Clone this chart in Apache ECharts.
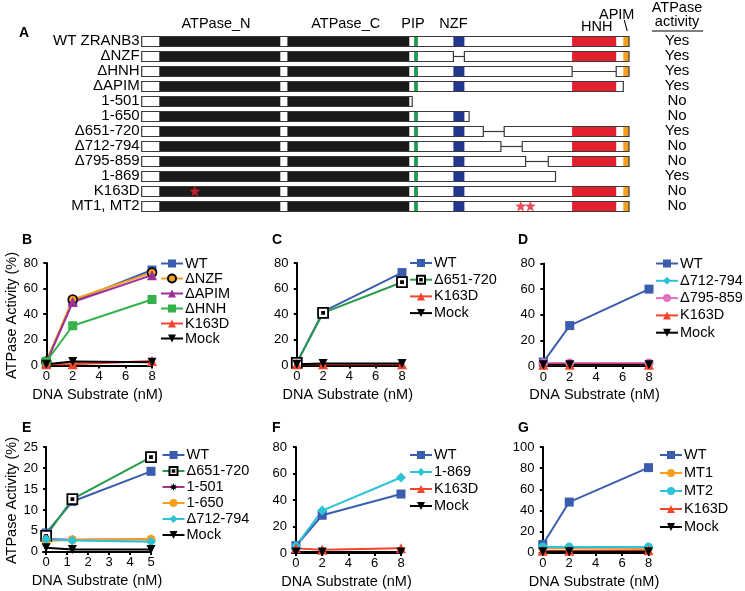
<!DOCTYPE html>
<html>
<head>
<meta charset="utf-8">
<script src="https://cdn.jsdelivr.net/npm/echarts@6/dist/echarts.min.js"></script>
<style>
  html, body { margin: 0; padding: 0; background: #fff; }
  #main { width: 745px; height: 591px; }
</style>
</head>
<body>
<div id="main"></div>
<script>
// ---------- panel A: construct map (figure units across the full length protein)
var rowLabels = ["WT ZRANB3", "ΔNZF", "ΔHNH", "ΔAPIM", "1-501", "1-650", "Δ651-720", "Δ712-794", "Δ795-859", "1-869", "K163D", "MT1, MT2"];
var activity = ["Yes", "Yes", "Yes", "Yes", "No", "No", "Yes", "No", "No", "Yes", "No", "No"];
// kept parts of each construct [start, end]; gaps are deletions
var rowPieces = [
  [[0, 487.3]],
  [[0, 311.7], [322.7, 487.3]],
  [[0, 430.4], [474.5, 487.3]],
  [[0, 481.6]],
  [[0, 270.5]],
  [[0, 327.4]],
  [[0, 341.6], [362.5, 487.3]],
  [[0, 359.2], [380.5, 487.3]],
  [[0, 383.9], [406.6, 487.3]],
  [[0, 413.8]],
  [[0, 487.3]],
  [[0, 487.3]]
];
var domainNames = ["ATPase_N", "ATPase_C", "PIP", "NZF", "HNH", "APIM"];
var domainStart = [17.6, 145.7, 272.4, 311.7, 430.4, 481.6];
var domainEnd = [138.6, 267.6, 276.2, 322.7, 474.5, 487.3];
var domainColors = ["#1b1a1a", "#1b1a1a", "#1f9a50", "#22388f", "#e2202e", "#f5a01c"];
var headerPos = [74.3, 204, 271.3, 311.7, 455, 475];
// point mutations [position, row]
var mutations = [[53.1, 10], [379, 11], [388.6, 11]];

// ---------- panels B-G
var ticks8 = [0, 2, 4, 6, 8];
var ticks5 = [0, 1, 2, 3, 4, 5];
var ticks80 = [0, 20, 40, 60, 80];
var ticks25 = [0, 5, 10, 15, 20, 25];
var ticks100 = [0, 20, 40, 60, 80, 100];

var xB = [0, 2, 8];
var bWT = [3, 50, 74.5];
var bNZF = [3, 51.5, 72.5];
var bAPIM = [2, 49.5, 70.5];
var bHNH = [3, 31, 51.5];
var bK163D = [1, 1, 3.5];
var bMock = [1, 3, 2.5];

var xC = [0, 2, 8];
var cWT = [2, 42, 72.5];
var c651 = [2, 41, 65];
var cK163D = [1, 1, 1];
var cMock = [1, 1.5, 1.5];

var xD = [0, 2, 8];
var dWT = [3, 31.5, 60];
var d712 = [2, 2, 2];
var d795 = [2.3, 2.3, 2.3];
var dK163D = [1, 1, 1];
var dMock = [1, 1, 1];

var xE = [0, 1.25, 5];
var eWT = [4.5, 12, 19.2];
var e651 = [3.8, 12.6, 22.6];
var e501 = [3.1, 2.9, 3];
var e650 = [2.6, 2.9, 3];
var e712 = [3, 2.7, 2.4];
var eMock = [1, 0.6, 0.6];

var xF = [0, 2, 8];
var fWT = [5.5, 28.5, 44.5];
var f869 = [5.5, 32, 57];
var fK163D = [3.5, 2.5, 3.5];
var fMock = [0.8, 0.8, 0.8];

var xG = [0, 2, 8];
var gWT = [8, 48, 80.5];
var gMT1 = [4.5, 4.5, 4.5];
var gMT2 = [5.5, 5.5, 5.5];
var gK163D = [2, 2, 2.5];
var gMock = [1, 1, 1];

var FONT = '"Liberation Sans", Arial, Helvetica, sans-serif';

function starPath(n, inner) {
  var pts = [];
  for (var i = 0; i < n * 2; i++) {
    var r = i % 2 ? inner : 1, a = Math.PI / n * i - Math.PI / 2;
    pts.push((50 + 50 * r * Math.cos(a)).toFixed(2) + ',' + (50 + 50 * r * Math.sin(a)).toFixed(2));
  }
  return 'path://M' + pts.join('L') + 'Z';
}

// marker looks of each construct
var looks = {
  'WT':       { color: '#3a5dae', symbol: 'rect', size: 9 },
  'ΔNZF':     { color: '#f6a01f', symbol: 'circle', size: 9, border: '#000', bw: 1.6 },
  'ΔAPIM':    { color: '#9d2f98', symbol: 'triangle', size: 10 },
  'ΔHNH':     { color: '#35b34a', symbol: 'rect', size: 9 },
  'K163D':    { color: '#f2452b', symbol: 'triangle', size: 10 },
  'Mock':     { color: '#000000', symbol: 'triangle', size: 9, rotate: 180 },
  'Δ651-720': { color: '#279a4c', symbol: 'path://M0,0H10V10H0ZM4,4H6V6H4Z', size: 10, fill: '#fff', border: '#000', bw: 1.8 },
  'Δ712-794': { color: '#2cc3d6', symbol: 'diamond', size: 10 },
  'Δ795-859': { color: '#e271c4', symbol: 'circle', size: 9 },
  '1-501':    { color: '#a3338f', symbol: starPath(8, 0.45), size: 10, fill: '#000' },
  '1-650':    { color: '#f6a01f', symbol: 'circle', size: 9 },
  '1-869':    { color: '#2cc3d6', symbol: 'diamond', size: 10 },
  'MT1':      { color: '#f6a01f', symbol: 'circle', size: 9 },
  'MT2':      { color: '#2cc3d6', symbol: 'circle', size: 9 }
};

var panels = [
  { letter: 'B', grid: { left: 43, top: 263, width: 109, height: 105 }, xs: xB, xMin: -0.25, xMax: 8, xt: ticks8, yMin: -2, yMax: 80, yt: ticks80, yName: true,
    legend: { left: 160, top: 256, gap: 0 }, letterPos: [27, 240],
    series: [['WT', bWT], ['ΔNZF', bNZF], ['ΔAPIM', bAPIM], ['ΔHNH', bHNH], ['K163D', bK163D], ['Mock', bMock]] },
  { letter: 'C', grid: { left: 293.5, top: 263, width: 108.5, height: 105 }, xs: xC, xMin: -0.25, xMax: 8, xt: ticks8, yMin: -2, yMax: 80, yt: ticks80,
    legend: { left: 409, top: 255.5, gap: 1.7 }, letterPos: [277, 240],
    series: [['WT', cWT], ['Δ651-720', c651], ['K163D', cK163D], ['Mock', cMock]] },
  { letter: 'D', grid: { left: 540, top: 263.5, width: 109, height: 105 }, xs: xD, xMin: -0.25, xMax: 8, xt: ticks8, yMin: -2, yMax: 80, yt: ticks80,
    legend: { left: 655, top: 256, gap: 2.3 }, letterPos: [523, 240],
    series: [['WT', dWT], ['Δ712-794', d712], ['Δ795-859', d795], ['K163D', dK163D], ['Mock', dMock]] },
  { letter: 'E', grid: { left: 43, top: 447, width: 108, height: 107 }, xs: xE, xMin: -0.15, xMax: 5, xt: ticks5, yMin: -0.5, yMax: 25, yt: ticks25, yName: true,
    legend: { left: 161.5, top: 447.5, gap: 1 }, letterPos: [27, 428],
    series: [['WT', eWT], ['Δ651-720', e651], ['1-501', e501], ['1-650', e650], ['Δ712-794', e712], ['Mock', eMock]] },
  { letter: 'F', grid: { left: 292, top: 447, width: 109, height: 108 }, xs: xF, xMin: -0.3, xMax: 8, xt: ticks8, yMin: -1.5, yMax: 80, yt: ticks80,
    legend: { left: 409, top: 447.5, gap: 2 }, letterPos: [277, 428],
    series: [['WT', fWT], ['1-869', f869], ['K163D', fK163D], ['Mock', fMock]] },
  { letter: 'G', grid: { left: 539.5, top: 447, width: 109, height: 108 }, xs: xG, xMin: -0.25, xMax: 8, xt: ticks8, yMin: -2, yMax: 100, yt: ticks100,
    legend: { left: 659, top: 447.5, gap: 3 }, letterPos: [523, 428],
    series: [['WT', gWT], ['MT1', gMT1], ['MT2', gMT2], ['K163D', gK163D], ['Mock', gMock]] }
];

var grids = [{ left: 141.7, top: 33.5, width: 487.3, height: 180 }];
var xAxes = [{ type: 'value', gridIndex: 0, min: 0, max: 487.3, show: false }];
var yAxes = [
  { type: 'category', gridIndex: 0, data: rowLabels, inverse: true, position: 'left',
    axisLine: { show: false }, axisTick: { show: false },
    axisLabel: { interval: 0, color: '#000', fontSize: 15, fontFamily: FONT, margin: 2 } },
  { type: 'category', gridIndex: 0, data: rowLabels, inverse: true, position: 'right',
    axisLine: { show: false }, axisTick: { show: false },
    axisLabel: { interval: 0, color: '#000', fontSize: 15, fontFamily: FONT, margin: 48, align: 'center',
      formatter: function (v, i) { return activity[i]; } } }
];
var legends = [];
var series = [];
var graphics = [
  { type: 'text', left: 19, top: 26, style: { text: 'A', font: 'bold 14px ' + FONT, fill: '#000' } },
  { type: 'text', x: 677, y: 8, style: { text: 'ATPase', font: '14.5px ' + FONT, fill: '#000', align: 'center', verticalAlign: 'middle' } },
  { type: 'text', x: 677, y: 21.5, style: { text: 'activity', font: '14.5px ' + FONT, fill: '#000', align: 'center', verticalAlign: 'middle' } },
  { type: 'line', shape: { x1: 652, y1: 31, x2: 703, y2: 31 }, style: { stroke: '#000', lineWidth: 1.2 } }
];

function lineSeries(name, xs, ys, idx) {
  var lk = looks[name];
  return {
    type: 'line', name: name, xAxisIndex: idx, yAxisIndex: idx + 1,
    data: xs.map(function (x, i) { return [x, ys[i]]; }),
    symbol: lk.symbol, symbolSize: lk.size, symbolRotate: lk.rotate || 0,
    showAllSymbol: true, clip: false,
    lineStyle: { color: lk.color, width: 2 },
    itemStyle: { color: lk.fill || lk.color, borderColor: lk.border || lk.fill || lk.color, borderWidth: lk.bw || 0 },
    emphasis: { disabled: true }
  };
}

panels.forEach(function (p, k) {
  var idx = k + 1;
  grids.push(p.grid);
  xAxes.push({
    type: 'value', gridIndex: idx, min: p.xMin, max: p.xMax,
    splitLine: { show: false },
    axisLine: { lineStyle: { color: '#000', width: 2 } },
    axisTick: { length: 3, lineStyle: { color: '#000', width: 2 }, customValues: p.xt },
    axisLabel: { color: '#000', fontSize: 13, fontFamily: FONT, margin: 2, customValues: p.xt },
    name: 'DNA Substrate (nM)', nameLocation: 'middle', nameGap: 19,
    nameTextStyle: { color: '#000', fontSize: 14.5, fontFamily: FONT }
  });
  yAxes.push({
    type: 'value', gridIndex: idx, min: p.yMin, max: p.yMax,
    splitLine: { show: false },
    axisLine: { show: true, lineStyle: { color: '#000', width: 2 } },
    axisTick: { show: true, length: 3, lineStyle: { color: '#000', width: 2 }, customValues: p.yt },
    axisLabel: { color: '#000', fontSize: 13, fontFamily: FONT, margin: 5, customValues: p.yt },
    name: p.yName ? 'ATPase Activity (%)' : '', nameLocation: 'middle', nameGap: 23,
    nameTextStyle: { color: '#000', fontSize: 14.5, fontFamily: FONT }
  });
  legends.push({
    orient: 'vertical', left: p.legend.left, top: p.legend.top, itemGap: p.legend.gap,
    itemWidth: 22, itemHeight: 10, selectedMode: false, padding: 0,
    data: p.series.map(function (s) { return s[0]; }),
    textStyle: { color: '#000', fontSize: 14.5, fontFamily: FONT, lineHeight: 15, padding: [0, 0, 0, -3] }
  });
  p.series.forEach(function (s) { series.push(lineSeries(s[0], p.xs, s[1], idx)); });
  graphics.push({ type: 'text', left: p.letterPos[0] - 5, top: p.letterPos[1] - 7,
    style: { text: p.letter, font: 'bold 14px ' + FONT, fill: '#000' } });
});

// construct bars
series.push({
  type: 'custom', xAxisIndex: 0, yAxisIndex: 0, silent: true,
  data: rowLabels.map(function (l, i) { return [i]; }),
  renderItem: function (params, api) {
    var row = api.value(0);
    var yc = Math.round(api.coord([0, row])[1]) + 0.5;
    var h = 10;
    var kids = [];
    var pieces = rowPieces[row];
    for (var k = 1; k < pieces.length; k++) {
      var a = api.coord([pieces[k - 1][1], row])[0], b = api.coord([pieces[k][0], row])[0];
      kids.push({ type: 'line', shape: { x1: a, y1: yc, x2: b, y2: yc }, style: { stroke: '#3a3a3a', lineWidth: 1.2 } });
    }
    pieces.forEach(function (pc) {
      var x0 = api.coord([pc[0], row])[0], x1 = api.coord([pc[1], row])[0];
      kids.push({ type: 'rect', shape: { x: x0, y: yc - h / 2, width: x1 - x0, height: h }, style: { fill: '#fff' } });
      domainStart.forEach(function (ds, d) {
        var s = Math.max(ds, pc[0]), e = Math.min(domainEnd[d], pc[1]);
        if (e - s > 0.5) {
          var sx = api.coord([s, row])[0], ex = api.coord([e, row])[0];
          kids.push({ type: 'rect', shape: { x: sx, y: yc - h / 2, width: ex - sx, height: h }, style: { fill: domainColors[d] } });
        }
      });
      kids.push({ type: 'rect', shape: { x: x0, y: yc - h / 2, width: x1 - x0, height: h }, style: { fill: 'none', stroke: '#3a3a3a', lineWidth: 1.2 } });
    });
    return { type: 'group', children: kids };
  }
});

// domain names above the map
series.push({
  type: 'custom', xAxisIndex: 0, yAxisIndex: 0, silent: true, clip: false,
  data: domainNames.map(function (n, i) { return [headerPos[i], 0]; }),
  renderItem: function (params, api) {
    var i = params.dataIndex;
    var pt = api.coord([api.value(0), api.value(1)]);
    var dy = domainNames[i] === 'APIM' ? -26 : (domainNames[i] === 'HNH' ? -14 : -17.5);
    var kids = [{ type: 'text', x: pt[0], y: pt[1] + dy,
      style: { text: domainNames[i], font: '14.5px ' + FONT, fill: '#000', align: 'center', verticalAlign: 'middle' } }];
    if (domainNames[i] === 'APIM') {
      kids.push({ type: 'text', x: pt[0] + 9, y: pt[1] - 14,
        style: { text: '\\', font: '14.5px ' + FONT, fill: '#000', align: 'center', verticalAlign: 'middle' } });
    }
    return { type: 'group', children: kids };
  }
});

// point mutations
series.push({
  type: 'scatter', xAxisIndex: 0, yAxisIndex: 0, silent: true,
  data: mutations, symbol: starPath(5, 0.42), symbolSize: 11,
  itemStyle: { color: '#e8212b' }, z: 5
});

var chart = echarts.init(document.getElementById('main'));
chart.setOption({
  animation: false,
  backgroundColor: '#fff',
  textStyle: { fontFamily: FONT },
  grid: grids,
  xAxis: xAxes,
  yAxis: yAxes,
  legend: legends,
  series: series,
  graphic: graphics
});
</script>
</body>
</html>
